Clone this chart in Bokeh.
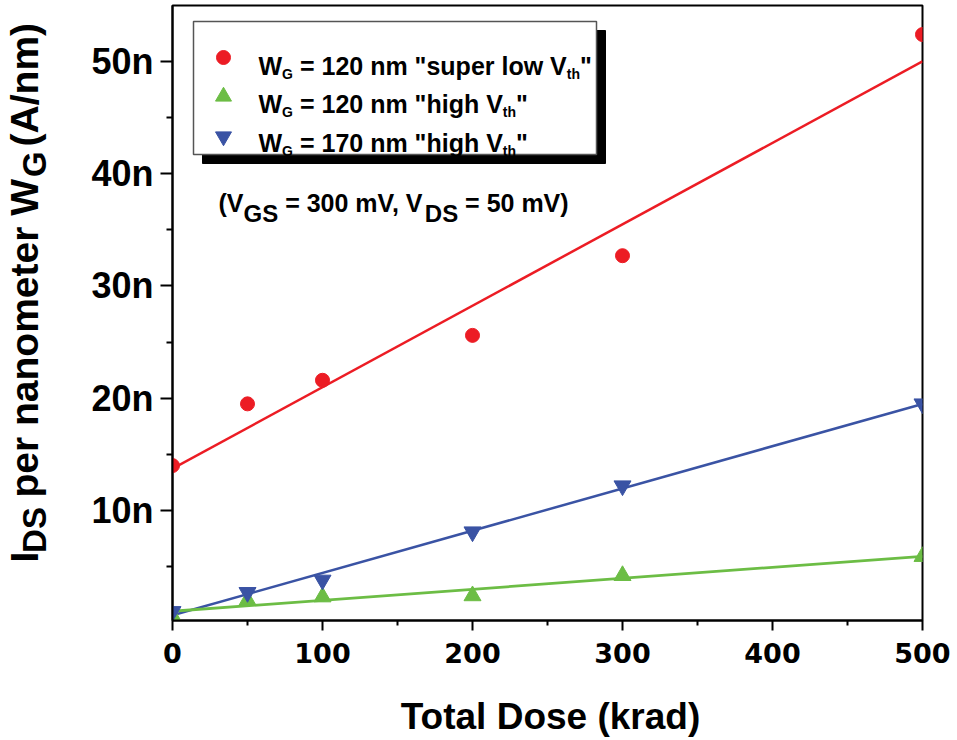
import math
import numpy as np
from bokeh.plotting import figure
from bokeh.models import Range1d, FixedTicker, Label
from bokeh.embed import file_html
from bokeh.resources import INLINE

# ---------------- data ----------------
dose = [0, 50, 100, 200, 300, 500]                       # krad
i_super_low_120 = [14.0, 19.5, 21.6, 25.6, 32.7, 52.4]   # nA/nm
i_high_120 = [0.6, 2.0, 2.3, 2.4, 4.2, 5.9]
i_high_170 = [1.0, 2.7, 3.8, 8.1, 12.2, 19.5]

x_ticks = [0, 100, 200, 300, 400, 500]
x_minor = [50, 150, 250, 350, 450]
y_ticks = [10, 20, 30, 40, 50]
y_minor = [5, 15, 25, 35, 45, 55]
y_tick_labels = ["10n", "20n", "30n", "40n", "50n"]

legend_width = ["120", "120", "170"]
legend_vth = ['"super low V', '"high V', '"high V']

RED = "#EC1C24"
GREEN = "#6CBD45"
BLUE = "#3A53A4"

# ---------------- layout helpers (canvas px -> data) ----------------
W, H = 950, 738
FL, FR, FT, FB = 172, 922, 5, 620
SX = 1.5
SY = 11.225
Y0 = 0.2
Y1 = Y0 + (FB - FT) / SY


def px2x(px):
    return (px - FL) / SX


def py2y(py):
    return Y0 + (FB - py) / SY


AW = {' ': 278, '\u00a0': 278, '!': 333, '"': 474, '(': 333, ')': 333, ',': 278, '-': 333,
      '.': 278, '/': 278, '=': 584, 'A': 722, 'D': 722, 'G': 778, 'I': 278, 'S': 667,
      'T': 611, 'V': 667, 'W': 944, 'a': 556, 'd': 611, 'e': 556, 'g': 611, 'h': 611,
      'i': 278, 'k': 556, 'l': 278, 'm': 889, 'n': 611, 'o': 611, 'p': 611, 'r': 389,
      's': 556, 't': 333, 'u': 611, 'w': 778}


def tw(s, size):
    return sum(AW.get(c, 556) for c in s) * size / 1000.0


FONT = "Liberation Sans"
NB = "\u00a0"

p = figure(width=W, height=H,
           x_range=Range1d(0, 500), y_range=Range1d(Y0, Y1),
           output_backend="svg", toolbar_location=None,
           min_border_left=FL, min_border_right=W - FR,
           min_border_top=FT, min_border_bottom=H - FB)

p.background_fill_color = "white"
p.border_fill_color = "white"
p.outline_line_color = "black"
p.outline_line_width = 2
p.grid.visible = False

for ax in (p.xaxis[0], p.yaxis[0]):
    ax.axis_line_width = 2
    ax.axis_line_color = "black"
    ax.major_tick_line_width = 2
    ax.minor_tick_line_width = 2
    ax.major_tick_in = 0
    ax.minor_tick_in = 0
    ax.major_label_text_font_style = "bold"
    ax.major_label_text_color = "black"

xa = p.xaxis[0]
xa.ticker = FixedTicker(ticks=x_ticks, minor_ticks=x_minor)
xa.major_tick_out = 10
xa.minor_tick_out = 5
xa.major_label_text_font = "DejaVu Sans"
xa.major_label_text_font_size = "27px"
xa.major_label_standoff = 12

ya = p.yaxis[0]
ya.ticker = FixedTicker(ticks=y_ticks, minor_ticks=y_minor)
ya.major_label_overrides = {t: l for t, l in zip(y_ticks, y_tick_labels)}
ya.major_tick_out = 12
ya.minor_tick_out = 6
ya.major_label_text_font = FONT
ya.major_label_text_font_size = "36px"
ya.major_label_standoff = 7

# ---------------- fit lines + points ----------------
xs_line = [0, 500]
for ys, col, lw in ((i_super_low_120, RED, 2.5), (i_high_170, BLUE, 2.5), (i_high_120, GREEN, 2.8)):
    k, b = np.polyfit(dose, ys, 1)
    p.line(xs_line, [b + k * x for x in xs_line], line_color=col, line_width=lw)

p.scatter(dose, i_high_120, marker="triangle", size=17, fill_color=GREEN, line_color=GREEN)
p.scatter(dose, i_high_170, marker="inverted_triangle", size=17, fill_color=BLUE, line_color=BLUE)
p.scatter(dose, i_super_low_120, marker="circle", size=14, fill_color=RED, line_color=RED)

# ---------------- legend box ----------------
p.quad(left=[px2x(202)], right=[px2x(605)], top=[py2y(30)], bottom=[py2y(163)],
       fill_color="black", line_color="black")
p.quad(left=[px2x(193)], right=[px2x(596)], top=[py2y(21)], bottom=[py2y(154)],
       fill_color="white", line_color="#555555", line_width=1.5)

p.scatter([px2x(223)], [py2y(57)], marker="circle", size=14, fill_color=RED, line_color=RED)
p.scatter([px2x(223)], [py2y(96)], marker="triangle", size=16, fill_color=GREEN, line_color=GREEN)
p.scatter([px2x(223)], [py2y(136)], marker="inverted_triangle", size=16, fill_color=BLUE, line_color=BLUE)


def _lab(x, y, text, size, angle=0.0, align="left", place=None):
    lab = Label(x=x, y=y, x_units="canvas", y_units="canvas", text=text,
                text_font=FONT, text_font_style="bold", text_font_size=f"{size}px",
                text_color="black", text_align=align,
                text_baseline="alphabetic", angle=angle)
    if place is None:
        p.add_layout(lab)
    else:
        p.add_layout(lab, place)


def hrun(pieces, x0, yb):
    x = x0
    for text, size, dy in pieces:
        lead = len(text) - len(text.lstrip(" "))
        x += tw(" " * lead, size)
        body = text.lstrip(" ")
        _lab(x, yb + dy, body, size)
        x += tw(body, size)


row_base = [65, 103, 142]
for wg, vth, yb in zip(legend_width, legend_vth, row_base):
    hrun([("W", 25, 0), ("G", 14, 8), (f" = {wg} nm {vth}", 25, 0), ("th", 14, 8), ('"', 25, 0)],
         258, yb)

# bias condition note
hrun([("(V", 25, 0), ("GS", 24, 11), (" = 300 mV, V", 25, 0), ("DS", 24, 11), (" = 50 mV)", 25, 0)],
     218, 202)

# ---------------- x axis title ----------------
_lab(550, 716, "Total Dose (krad)", 37, align="center", place="below")

# ---------------- y axis title (rotated, with subscripts) ----------------
FM, FS = 39, 33            # main / subscript font size
XB, SUB_DX, Y_START = 24, 10, 562
n1 = round(tw("DS", FS) / tw(NB, FM))
n2 = round(tw("G", FS) / tw(NB, FM))
main_text = "I" + NB * n1 + " per nanometer W" + NB * n2 + " (A/nm)"
gap1_start = tw("I", FM)
gap1 = tw(NB * n1, FM)
gap2_start = gap1_start + gap1 + tw(" per nanometer W", FM)
gap2 = tw(NB * n2, FM)
ds_start = gap1_start + (gap1 - tw("DS", FS)) / 2
g_start = gap2_start + (gap2 - tw("G", FS)) / 2
m = round((g_start - ds_start - tw("DS", FS)) / tw(NB, FS))
sub_text = "DS" + NB * m + "G"

_lab(XB, Y_START, main_text, FM, math.pi / 2, place="left")
_lab(XB + SUB_DX, Y_START - ds_start, sub_text, FS, math.pi / 2, place="left")

open("out.html", "w").write(file_html(p, INLINE))
